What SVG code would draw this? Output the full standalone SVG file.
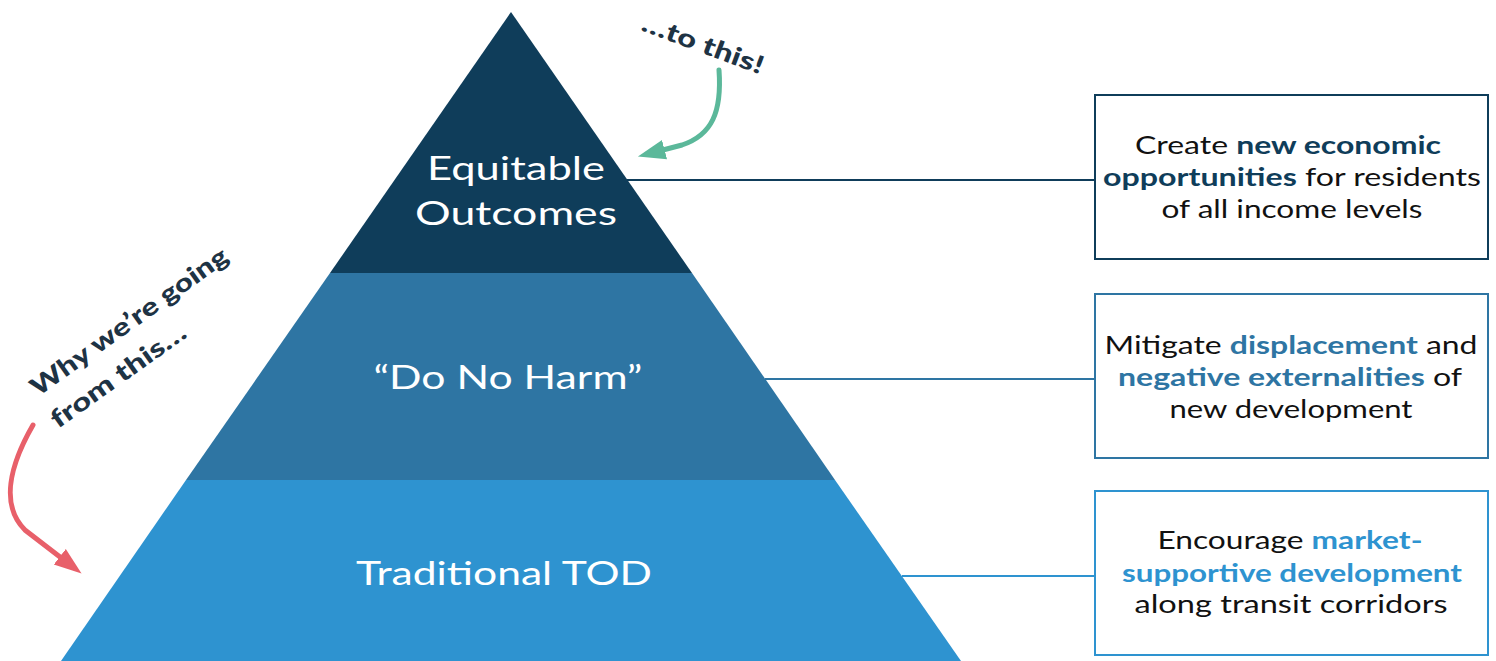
<svg xmlns="http://www.w3.org/2000/svg" width="1496" height="661" viewBox="0 0 1496 661">
<style>
.lbl{font-family:"Lato","Noto Sans",sans-serif;font-size:33px;fill:#ffffff;text-anchor:middle}
.bx{font-family:"Lato","Noto Sans",sans-serif;font-size:25px;fill:#111111;text-anchor:middle}
.b{font-weight:bold}
.note{font-family:"Lato","Noto Sans",sans-serif;font-weight:900;font-size:25px;fill:#1e3344}
</style>
<defs>
<marker id="ahG" viewBox="0 0 10 10" refX="6.4" refY="5" markerWidth="5.5" markerHeight="5.5" orient="auto" markerUnits="strokeWidth"><path d="M0,1.4 L10,5 L0,8.6 Z" fill="#5bb89a"/></marker>
<marker id="ahR" viewBox="0 0 10 10" refX="6.4" refY="5" markerWidth="5.5" markerHeight="5.5" orient="auto" markerUnits="strokeWidth"><path d="M0,1.4 L10,5 L0,8.6 Z" fill="#e8606a"/></marker>
</defs>
<rect width="1496" height="661" fill="#ffffff"/>
<g id="connectors" fill="none" stroke-width="2">
<line x1="627" y1="180" x2="1094" y2="180" stroke="#0f3d5a"/>
<line x1="765" y1="379" x2="1094" y2="379" stroke="#2e75a3"/>
<line x1="902" y1="576" x2="1094" y2="576" stroke="#2e93d0"/>
<path d="M719,70 C722,112 712,135 682,145 L647.5,154" stroke="#5bb89a" stroke-width="5" stroke-linecap="round" marker-end="url(#ahG)"/>
<path d="M33,425 C10,465 0,505 25,530 L73.7,567.5" stroke="#e8606a" stroke-width="5" stroke-linecap="round" marker-end="url(#ahR)"/>
</g>
<g id="tier-bottom">
<polygon points="186,480 835,480 961,661 61,661" fill="#2e93d0"/>
<text class="lbl" x="504" y="585" textLength="296" lengthAdjust="spacingAndGlyphs">Traditional TOD</text>
</g>
<g id="tier-middle">
<polygon points="330,273 692,273 835,480 186,480" fill="#2e75a3"/>
<text class="lbl" x="508" y="389" textLength="269" lengthAdjust="spacingAndGlyphs">“Do No Harm”</text>
</g>
<g id="tier-top">
<polygon points="511,12 692,273 330,273" fill="#0f3d5a"/>
<text class="lbl" x="516" y="180" textLength="178" lengthAdjust="spacingAndGlyphs">Equitable</text>
<text class="lbl" x="516" y="225" textLength="202" lengthAdjust="spacingAndGlyphs">Outcomes</text>
</g>
<g id="box-top">
<rect x="1095" y="95" width="393" height="164" fill="#ffffff" stroke="#0f3d5a" stroke-width="2"/>
<text class="bx" x="1288" y="154" textLength="306" lengthAdjust="spacingAndGlyphs">Create <tspan class="b" fill="#0f3d5a">new economic</tspan></text>
<text class="bx" x="1292" y="186" textLength="378" lengthAdjust="spacingAndGlyphs"><tspan class="b" fill="#0f3d5a">opportunities</tspan> for residents</text>
<text class="bx" x="1292" y="218" textLength="261" lengthAdjust="spacingAndGlyphs">of all income levels</text>
</g>
<g id="box-middle">
<rect x="1095" y="294" width="393" height="164" fill="#ffffff" stroke="#2e75a3" stroke-width="2"/>
<text class="bx" x="1291" y="354" textLength="373" lengthAdjust="spacingAndGlyphs">Mitigate <tspan class="b" fill="#2e75a3">displacement</tspan> and</text>
<text class="bx" x="1290" y="386" textLength="344" lengthAdjust="spacingAndGlyphs"><tspan class="b" fill="#2e75a3">negative externalities</tspan> of</text>
<text class="bx" x="1291" y="418" textLength="243" lengthAdjust="spacingAndGlyphs">new development</text>
</g>
<g id="box-bottom">
<rect x="1095" y="491" width="393" height="164" fill="#ffffff" stroke="#2e93d0" stroke-width="2"/>
<text class="bx" x="1290" y="549" textLength="265" lengthAdjust="spacingAndGlyphs">Encourage <tspan class="b" fill="#2e93d0">market-</tspan></text>
<text class="bx" x="1292" y="582" textLength="340" lengthAdjust="spacingAndGlyphs"><tspan class="b" fill="#2e93d0">supportive development</tspan></text>
<text class="bx" x="1291" y="613" textLength="313" lengthAdjust="spacingAndGlyphs">along transit corridors</text>
</g>
<g id="note-to">
<text class="note" transform="translate(640,30) rotate(20.4)" textLength="128" lengthAdjust="spacingAndGlyphs">…to this!</text>
</g>
<g id="note-from">
<text class="note" transform="translate(38,397) rotate(-35.5)" textLength="236" lengthAdjust="spacingAndGlyphs">Why we’re going</text>
<text class="note" transform="translate(58,429) rotate(-35.5)" textLength="160" lengthAdjust="spacingAndGlyphs">from this…</text>
</g>
</svg>
